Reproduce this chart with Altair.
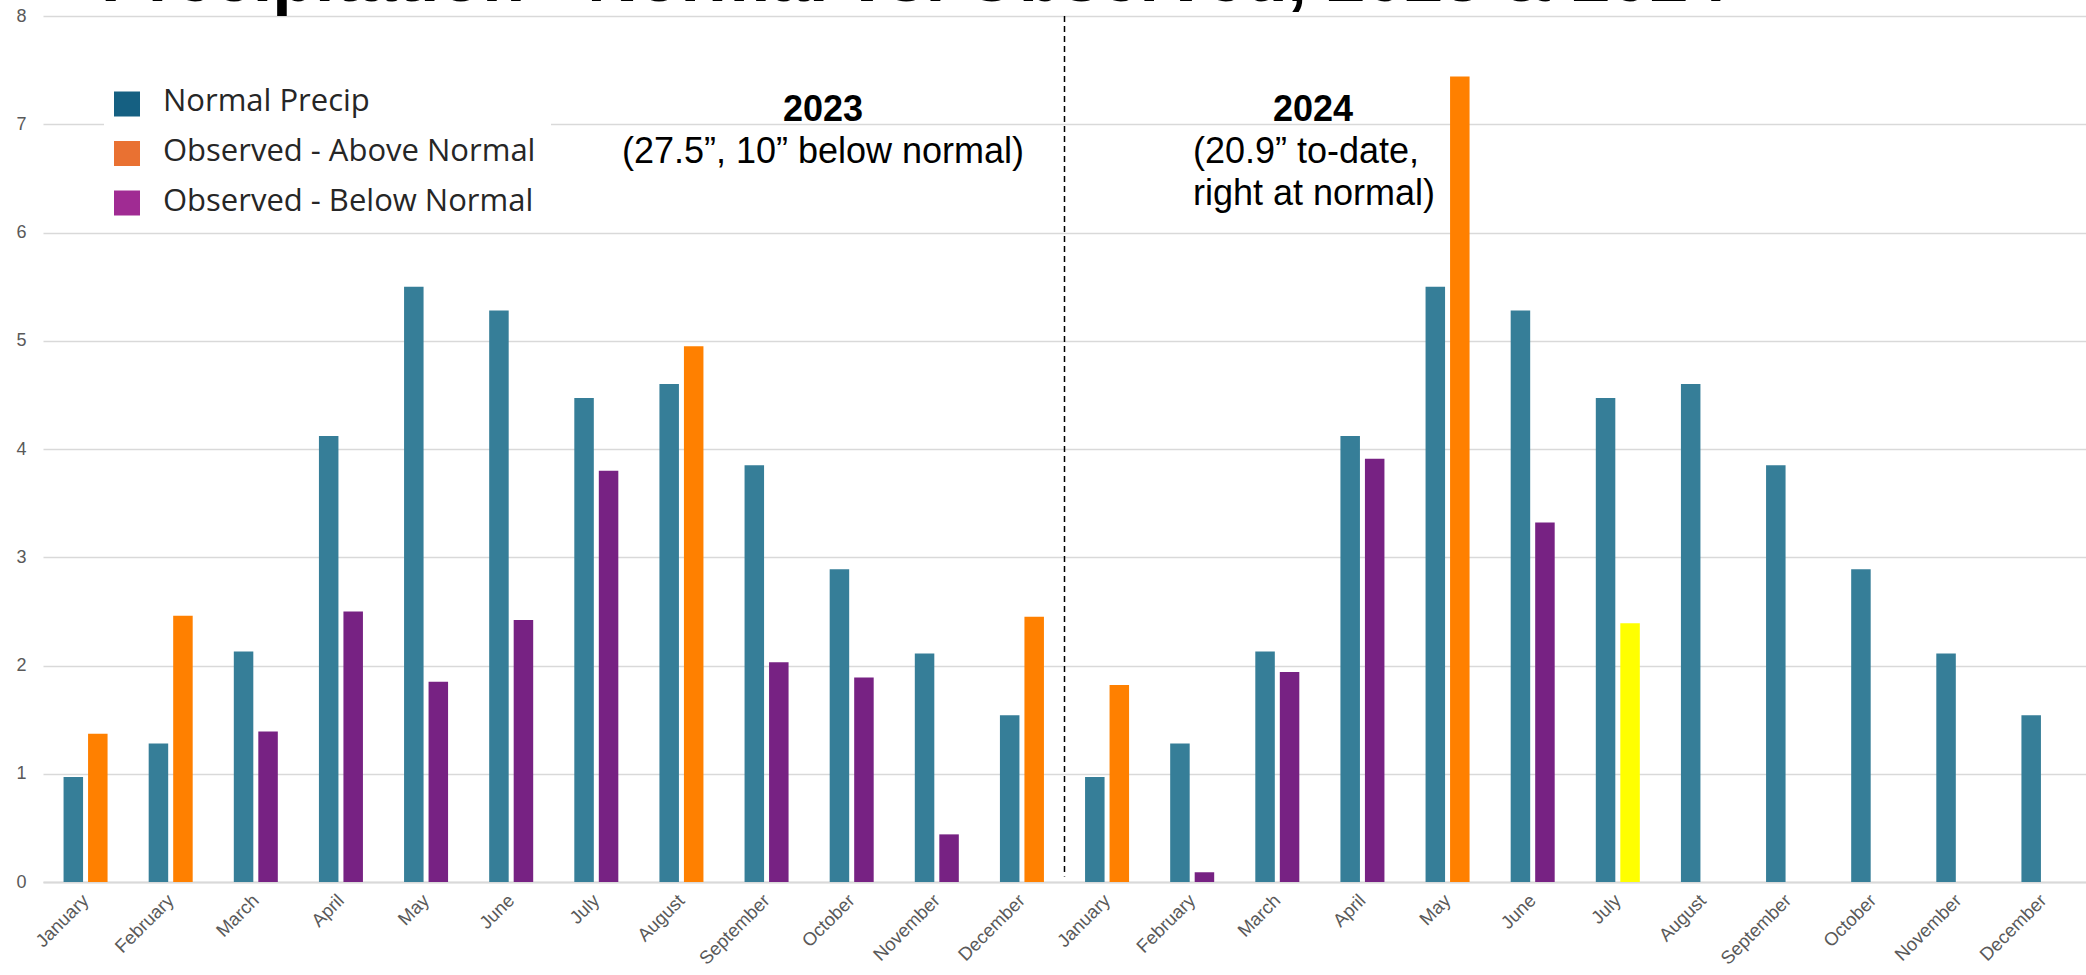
import altair as alt
import pandas as pd

# Monthly precipitation (inches)
months = ["January", "February", "March", "April", "May", "June",
          "July", "August", "September", "October", "November", "December"]
normal_precip = [0.97, 1.28, 2.13, 4.12, 5.50, 5.28, 4.47, 4.60, 3.85, 2.89, 2.11, 1.54]
observed_2023 = [1.37, 2.46, 1.39, 2.50, 1.85, 2.42, 3.80, 4.95, 2.03, 1.89, 0.44, 2.45]
observed_2024 = [1.82, 0.09, 1.94, 3.91, 7.44, 3.32, 2.39]
years = [2023, 2024]
month_in_progress = (2024, "July")

series_order = ["Normal", "Observed"]
status_domain = ["normal", "above", "below", "partial"]
status_colors = ["#367e98", "#ff8000", "#772283", "#ffff00"]

legend_labels = ["Normal Precip", "Observed - Above Normal", "Observed - Below Normal"]
legend_colors = ["#156082", "#e97132", "#a02b93"]

rows = []
for year, observed in zip(years, [observed_2023, observed_2024]):
    for i, month in enumerate(months):
        key = f"{month}|{year}"
        rows.append({"key": key, "series": "Normal", "value": normal_precip[i], "status": "normal"})
        if i < len(observed):
            if (year, month) == month_in_progress:
                status = "partial"
            elif observed[i] >= normal_precip[i]:
                status = "above"
            else:
                status = "below"
            rows.append({"key": key, "series": "Observed", "value": observed[i], "status": status})
bars_df = pd.DataFrame(rows)
keys = [f"{m}|{y}" for y in years for m in months]

PLOT_W, PLOT_H = 2043, 866
FONT = "Liberation Sans"

x_scale = alt.Scale(domain=keys, paddingInner=0, paddingOuter=0)
y_scale = alt.Scale(domain=[0, 8], nice=False)
x_axis = alt.Axis(title=None, labelExpr="split(datum.value, '|')[0]",
                  labelAngle=315, labelAlign="right", labelBaseline="middle",
                  labelFont=FONT, labelFontSize=18.5, labelColor="#595959",
                  labelPadding=15, domain=True, domainColor="#d9d9d9", domainWidth=2,
                  ticks=False, grid=False)
y_axis = alt.Axis(title=None, values=list(range(0, 9)), grid=True,
                  gridColor="#d9d9d9", gridWidth=1.5, domain=False, ticks=False,
                  labelFont=FONT, labelFontSize=18, labelColor="#595959",
                  labelPadding=17)

bars = alt.Chart(bars_df).mark_bar().encode(
    x=alt.X("key:N", sort=keys, scale=x_scale, axis=x_axis),
    xOffset=alt.XOffset("series:N", sort=series_order,
                        scale=alt.Scale(domain=series_order, paddingInner=0.204, paddingOuter=0.839)),
    y=alt.Y("value:Q", scale=y_scale, axis=y_axis),
    color=alt.Color("status:N", scale=alt.Scale(domain=status_domain, range=status_colors),
                    legend=None),
)

# Dashed divider between the two years
divider_df = pd.DataFrame({"key": [f"January|{years[1]}"], "value": [8.0], "bottom": [0.05]})
divider = alt.Chart(divider_df).mark_rule(color="black", strokeWidth=1.5, strokeDash=[6, 4]).encode(
    x=alt.X("key:N", sort=keys, scale=x_scale, bandPosition=0, axis=x_axis),
    y=alt.Y("value:Q", scale=y_scale, axis=y_axis),
    y2="bottom:Q",
)

one = pd.DataFrame({"_": [0]})


def label(text, x, y, size=36, weight="normal", font=FONT, align="center", color="black"):
    return alt.Chart(one).mark_text(
        text=text, font=font, fontSize=size, fontWeight=weight, align=align,
        baseline="alphabetic", color=color,
    ).encode(x=alt.value(x), y=alt.value(y))


title = label("Precipitation - Normal vs. Observed, 2023 & 2024", 58, -15.5,
              size=70, weight="bold", align="left")

notes = [
    label("2023", 780, 105, weight="bold"),
    label("(27.5\u201d, 10\u201d below normal)", 780, 147),
    label("2024", 1270, 105, weight="bold"),
    label("(20.9\u201d to-date,", 1263, 147),
    label("right at normal)", 1271, 189),
]

# Legend panel on a white backing
legend_layers = [
    alt.Chart(one).mark_rect(color="white").encode(
        x=alt.value(61), x2=alt.value(508), y=alt.value(52), y2=alt.value(210))
]
for i, (text, color) in enumerate(zip(legend_labels, legend_colors)):
    cy = 88 + i * 49.5
    legend_layers.append(
        alt.Chart(one).mark_rect(color=color).encode(
            x=alt.value(71), x2=alt.value(97), y=alt.value(cy - 12.5), y2=alt.value(cy + 12.5))
    )
    legend_layers.append(
        label(text, 120, 95 + i * 50, size=31, font="Open Sans", align="left", color="#262626")
    )

chart = alt.layer(bars, divider, *legend_layers, title, *notes).properties(
    width=PLOT_W, height=PLOT_H,
    autosize=alt.AutoSizeParams(type="none"),
    padding={"left": 43, "top": 16, "right": 0, "bottom": 86},
    background="white",
).configure_view(stroke=None)

chart.save("out.html", embed_options={"renderer": "svg", "actions": False})
